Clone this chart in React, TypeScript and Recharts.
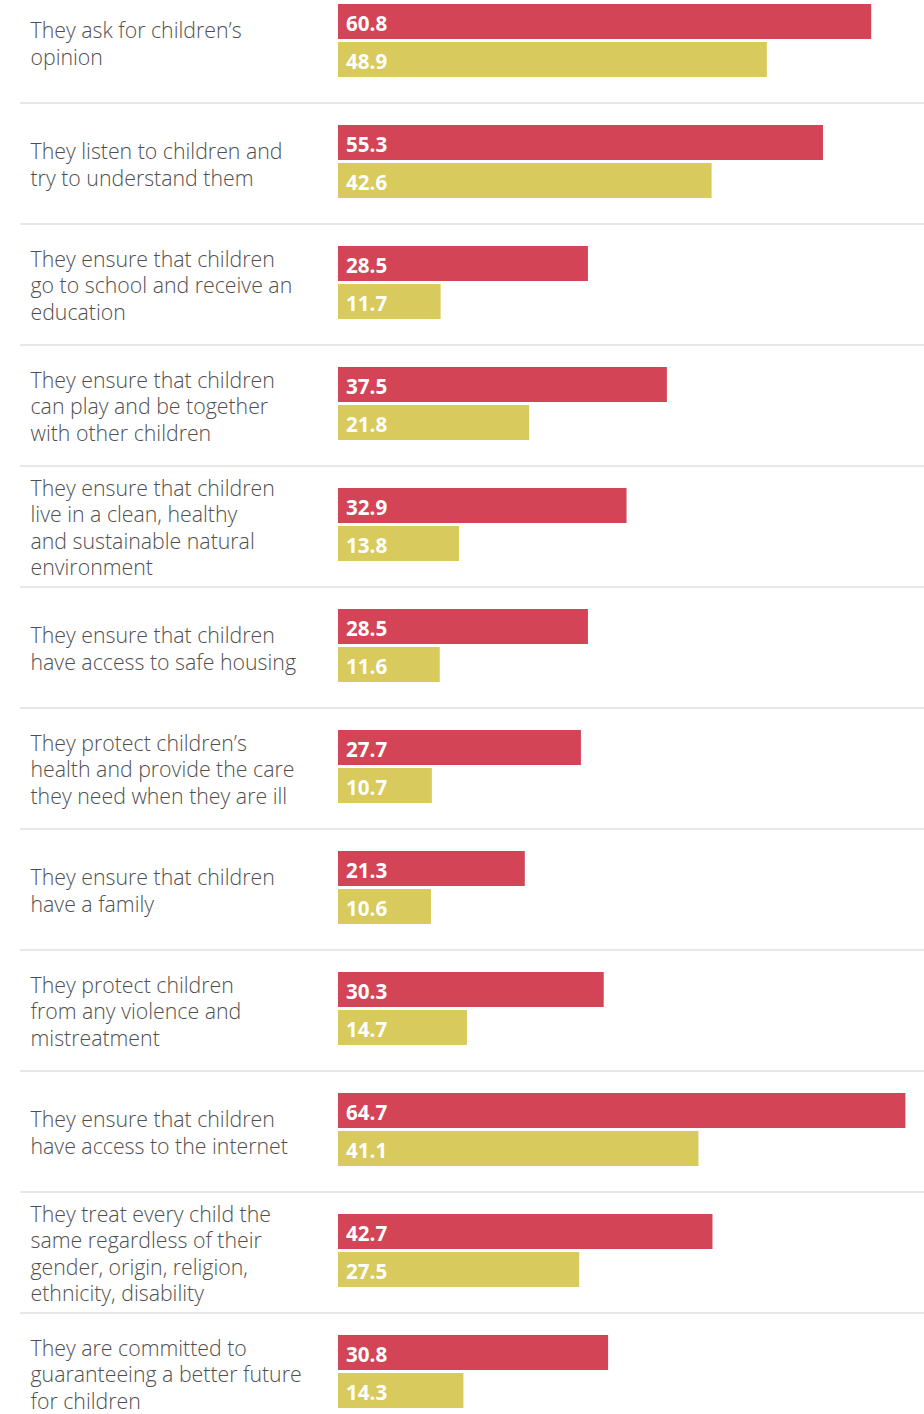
import React from "react";
import { BarChart, Bar, XAxis, YAxis, LabelList } from "recharts";

const categories: string[][] = [
  ["They ask for children’s", "opinion"],
  ["They listen to children and", "try to understand them"],
  ["They ensure that children", "go to school and receive an", "education"],
  ["They ensure that children", "can play and be together", "with other children"],
  ["They ensure that children", "live in a clean, healthy", "and sustainable natural", "environment"],
  ["They ensure that children", "have access to safe housing"],
  ["They protect children’s", "health and provide the care", "they need when they are ill"],
  ["They ensure that children", "have a family"],
  ["They protect children", "from any violence and", "mistreatment"],
  ["They ensure that children", "have access to the internet"],
  ["They treat every child the", "same regardless of their", "gender, origin, religion,", "ethnicity, disability"],
  ["They are committed to", "guaranteeing a better future", "for children"],
];

const redValues: number[] = [60.8, 55.3, 28.5, 37.5, 32.9, 28.5, 27.7, 21.3, 30.3, 64.7, 42.7, 30.8];
const yellowValues: number[] = [48.9, 42.6, 11.7, 21.8, 13.8, 11.6, 10.7, 10.6, 14.7, 41.1, 27.5, 14.3];

const data = categories.map((lines, i) => ({
  name: String(i),
  red: redValues[i],
  yellow: yellowValues[i],
}));

const FONT = "'Open Sans', sans-serif";

const CategoryTick = (props: any) => {
  const { y, payload } = props;
  const lines = categories[Number(payload.value)] || [];
  const n = lines.length;
  const lh = 26.6;
  const base = y + 10.9;
  return (
    <g>
      {lines.map((l, i) => (
        <text
          key={i}
          x={30.5}
          y={base + (i - (n - 1) / 2) * lh}
          fill="#4f4f4f"
          fontSize={21.3}
          fontWeight={300}
          fontFamily={FONT}
          textAnchor="start"
        >
          {l}
        </text>
      ))}
      <line x1={20} x2={924} y1={y + 62.5} y2={y + 62.5} stroke="#d0d0d0" strokeWidth={1} />
    </g>
  );
};

const ValueLabel = (props: any) => {
  const { x, y, height, value } = props;
  return (
    <text
      x={x + 8}
      y={y + height / 2 + 9.5}
      fill="#ffffff"
      fontSize={20.6}
      fontWeight={700}
      fontFamily={FONT}
    >
      {Number(value).toFixed(1)}
    </text>
  );
};

export default function App() {
  return (
    <div style={{ position: "absolute", left: 0, top: 0, width: 924, height: 1414, overflow: "hidden", background: "#fff" }}>
      <div style={{ position: "absolute", left: 0, top: -20 }}>
        <BarChart
          width={924}
          height={1452}
          data={data}
          layout="vertical"
          margin={{ top: 0, right: 0, bottom: 0, left: 0 }}
          barSize={35}
          barGap={3}
          barCategoryGap={0}
        >
          <XAxis type="number" domain={[0, 66.82]} hide />
          <YAxis
            type="category"
            dataKey="name"
            width={338}
            axisLine={false}
            tickLine={false}
            tick={<CategoryTick />}
            interval={0}
          />
          <Bar dataKey="red" fill="#d44457" isAnimationActive={false}>
            <LabelList dataKey="red" content={<ValueLabel />} />
          </Bar>
          <Bar dataKey="yellow" fill="#d8ca5c" isAnimationActive={false}>
            <LabelList dataKey="yellow" content={<ValueLabel />} />
          </Bar>
        </BarChart>
      </div>
    </div>
  );
}
